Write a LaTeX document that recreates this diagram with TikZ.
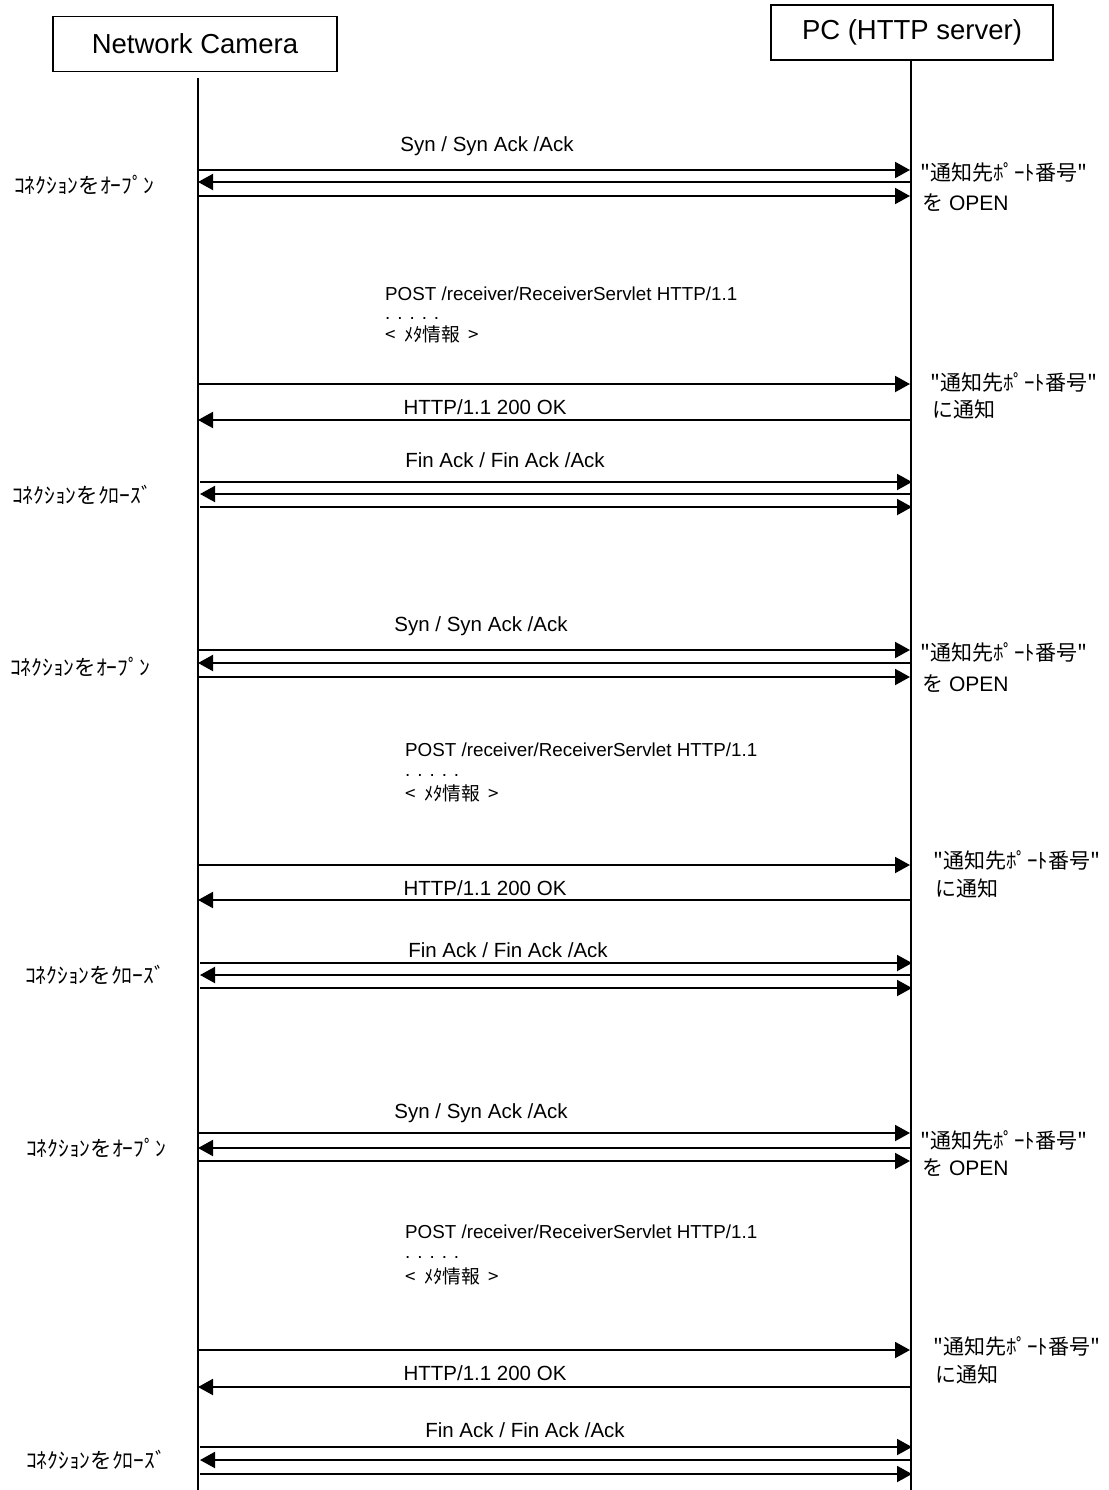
\documentclass[tikz,border=0pt]{standalone}
\usepackage{fontspec}
\setmainfont{Liberation Sans}
\newfontfamily\jp{Noto Sans CJK JP}
\usetikzlibrary{arrows.meta}
\begin{document}
\begin{tikzpicture}[x=1pt,y=-1pt,
  actor/.style={draw,line width=1.5pt,minimum height=55pt,inner sep=0pt,font=\fontsize{27.5}{30}\selectfont},
  life/.style={line width=2pt},
  msg/.style={line width=2pt,-{Triangle[length=15pt,width=16pt]}},
  lbl/.style={inner sep=0pt,font=\fontsize{20.5}{24}\selectfont},
  post/.style={inner sep=0pt,anchor=west,font=\fontsize{18.8}{22}\selectfont},
  dots/.style={inner sep=0pt,anchor=base west,font=\fontsize{18.8}{22}\selectfont},
  side/.style={inner sep=0pt,anchor=west,font=\fontsize{21}{24}\selectfont},
  leftlbl/.style={inner sep=0pt,font=\jp\fontsize{21.5}{24}\selectfont}]
\useasboundingbox (0,0) rectangle (1108,1490);
\fill[white] (0,0) rectangle (1108,1490);
% actors
\node[actor,minimum width=284pt] (cam) at (195,44) {Network Camera};
\node[actor,minimum width=282pt] (pc) at (912,32.5) {PC (HTTP server)};
\coordinate (camTop) at (198,78);
\coordinate (camBot) at (198,1490);
\coordinate (pcBot) at (911,1490);
\draw[life] (camTop) -- (camBot);
\draw[life] (pc.south -| pcBot) -- (pcBot);
% message coordinates
\foreach \n/\y in {a/170,b/182,c/196,d/384,e/420,
                   k/650,l/663,m/677,n/865,o/900,
                   u/1133,v/1148,w/1161,x/1350,y/1387}{
  \coordinate (L\n) at (198,\y);
  \coordinate (R\n) at (910,\y);
}
\foreach \n/\y in {f/482,g/494,h/507,p/963,q/975,r/988,z/1447,s/1460,t/1474}{
  \coordinate (L\n) at (200,\y);
  \coordinate (R\n) at (912,\y);
}
% block 1
\node[lbl] (t1) at (487,146) {Syn / Syn Ack /Ack};
\draw[msg] (La) -- (Ra);
\draw[msg] (Rb) -- (Lb);
\draw[msg] (Lc) -- (Rc);
\node[leftlbl] (o1) at (84,185) {ｺﾈｸｼｮﾝをｵｰﾌﾟﾝ};
\node[side] (s1a) at (920,172) {{\jp "通知先ﾎﾟｰﾄ番号"}};
\node[side] (s1b) at (922,203) {{\jp を} OPEN};
\node[post] (p1a) at (385,294) {POST /receiver/ReceiverServlet HTTP/1.1};
\node[dots] (p1b) at (385,319) {. . . . .};
\node[post] (p1c) at (385,334) {{\jp <\ \ ﾒﾀ情報\ \ >}};
\draw[msg] (Ld) -- (Rd);
\node[lbl] (h1) at (485,407) {HTTP/1.1 200 OK};
\draw[msg] (Re) -- (Le);
\node[side] (n1a) at (930,382) {{\jp "通知先ﾎﾟｰﾄ番号"}};
\node[side] (n1b) at (932,409) {{\jp に通知}};
\node[lbl] (f1) at (505,460) {Fin Ack / Fin Ack /Ack};
\draw[msg] (Lf) -- (Rf);
\draw[msg] (Rg) -- (Lg);
\draw[msg] (Lh) -- (Rh);
\node[leftlbl] (c1) at (82,495) {ｺﾈｸｼｮﾝをｸﾛｰｽﾞ};
% block 2
\node[lbl] (t2) at (481,626) {Syn / Syn Ack /Ack};
\draw[msg] (Lk) -- (Rk);
\draw[msg] (Rl) -- (Ll);
\draw[msg] (Lm) -- (Rm);
\node[leftlbl] (o2) at (80,667) {ｺﾈｸｼｮﾝをｵｰﾌﾟﾝ};
\node[side] (s2a) at (920,652) {{\jp "通知先ﾎﾟｰﾄ番号"}};
\node[side] (s2b) at (922,684) {{\jp を} OPEN};
\node[post] (p2a) at (405,750) {POST /receiver/ReceiverServlet HTTP/1.1};
\node[dots] (p2b) at (405,776) {. . . . .};
\node[post] (p2c) at (405,793) {{\jp <\ \ ﾒﾀ情報\ \ >}};
\draw[msg] (Ln) -- (Rn);
\node[lbl] (h2) at (485,888) {HTTP/1.1 200 OK};
\draw[msg] (Ro) -- (Lo);
\node[side] (n2a) at (933,860) {{\jp "通知先ﾎﾟｰﾄ番号"}};
\node[side] (n2b) at (935,888) {{\jp に通知}};
\node[lbl] (f2) at (508,950) {Fin Ack / Fin Ack /Ack};
\draw[msg] (Lp) -- (Rp);
\draw[msg] (Rq) -- (Lq);
\draw[msg] (Lr) -- (Rr);
\node[leftlbl] (c2) at (95,975) {ｺﾈｸｼｮﾝをｸﾛｰｽﾞ};
% block 3
\node[lbl] (t3) at (481,1113) {Syn / Syn Ack /Ack};
\draw[msg] (Lu) -- (Ru);
\draw[msg] (Rv) -- (Lv);
\draw[msg] (Lw) -- (Rw);
\node[leftlbl] (o3) at (96,1148) {ｺﾈｸｼｮﾝをｵｰﾌﾟﾝ};
\node[side] (s3a) at (920,1140) {{\jp "通知先ﾎﾟｰﾄ番号"}};
\node[side] (s3b) at (922,1168) {{\jp を} OPEN};
\node[post] (p3a) at (405,1232) {POST /receiver/ReceiverServlet HTTP/1.1};
\node[dots] (p3b) at (405,1258) {. . . . .};
\node[post] (p3c) at (405,1276) {{\jp <\ \ ﾒﾀ情報\ \ >}};
\draw[msg] (Lx) -- (Rx);
\node[lbl] (h3) at (485,1373) {HTTP/1.1 200 OK};
\draw[msg] (Ry) -- (Ly);
\node[side] (n3a) at (933,1346) {{\jp "通知先ﾎﾟｰﾄ番号"}};
\node[side] (n3b) at (935,1374) {{\jp に通知}};
\node[lbl] (f3) at (525,1430) {Fin Ack / Fin Ack /Ack};
\draw[msg] (Lz) -- (Rz);
\draw[msg] (Rs) -- (Ls);
\draw[msg] (Lt) -- (Rt);
\node[leftlbl] (c3) at (96,1460) {ｺﾈｸｼｮﾝをｸﾛｰｽﾞ};
\end{tikzpicture}
\end{document}
